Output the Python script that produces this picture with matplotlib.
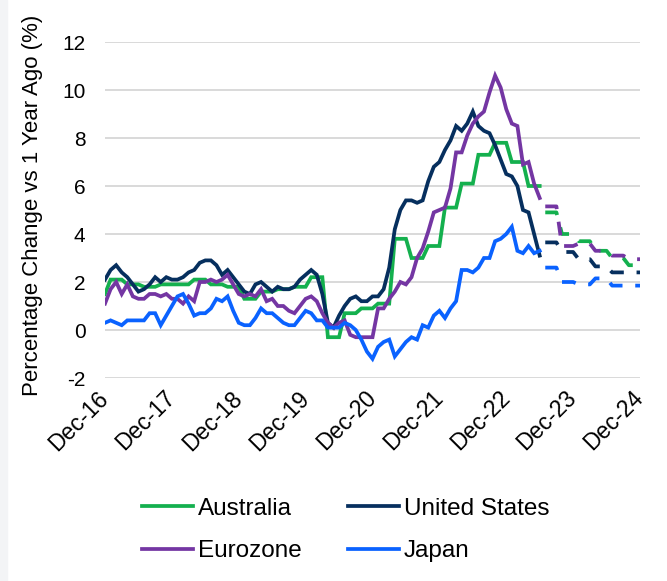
import numpy as np
import matplotlib.pyplot as plt
from matplotlib.patches import Rectangle

plt.rcParams['font.family'] = ['Liberation Sans', 'DejaVu Sans']
plt.rcParams['axes.unicode_minus'] = False

# months since Dec-16 (actuals Dec-16 .. Jun-23, forecasts Jul-23 .. Dec-24)
tick_labels = ['Dec-16', 'Dec-17', 'Dec-18', 'Dec-19', 'Dec-20',
               'Dec-21', 'Dec-22', 'Dec-23', 'Dec-24']

australia = [1.5,
             2.1, 2.1, 2.1, 1.9, 1.9, 1.9, 1.8, 1.8, 1.8, 1.9, 1.9, 1.9,
             1.9, 1.9, 1.9, 2.1, 2.1, 2.1, 1.9, 1.9, 1.9, 1.8, 1.8, 1.8,
             1.3, 1.3, 1.3, 1.6, 1.6, 1.6, 1.7, 1.7, 1.7, 1.8, 1.8, 1.8,
             2.2, 2.2, 2.2, -0.3, -0.3, -0.3, 0.7, 0.7, 0.7, 0.9, 0.9, 0.9,
             1.1, 1.1, 1.1, 3.8, 3.8, 3.8, 3.0, 3.0, 3.0, 3.5, 3.5, 3.5,
             5.1, 5.1, 5.1, 6.1, 6.1, 6.1, 7.3, 7.3, 7.3, 7.8, 7.8, 7.8,
             7.0, 7.0, 7.0, 6.0, 6.0, 6.0]
united_states = [2.1,
                 2.5, 2.7, 2.4, 2.2, 1.9, 1.6, 1.7, 1.9, 2.2, 2.0, 2.2, 2.1,
                 2.1, 2.2, 2.4, 2.5, 2.8, 2.9, 2.9, 2.7, 2.3, 2.5, 2.2, 1.9,
                 1.6, 1.5, 1.9, 2.0, 1.8, 1.6, 1.8, 1.7, 1.7, 1.8, 2.1, 2.3,
                 2.5, 2.3, 1.5, 0.3, 0.1, 0.6, 1.0, 1.3, 1.4, 1.2, 1.2, 1.4,
                 1.4, 1.7, 2.6, 4.2, 5.0, 5.4, 5.4, 5.3, 5.4, 6.2, 6.8, 7.0,
                 7.5, 7.9, 8.5, 8.3, 8.6, 9.1, 8.5, 8.3, 8.2, 7.7, 7.1, 6.5,
                 6.4, 6.0, 5.0, 4.9, 4.0, 3.1]
eurozone = [1.1,
            1.7, 2.0, 1.5, 1.9, 1.4, 1.3, 1.3, 1.5, 1.5, 1.4, 1.5, 1.3,
            1.3, 1.1, 1.4, 1.2, 2.0, 2.0, 2.1, 2.0, 2.1, 2.3, 1.9, 1.5,
            1.4, 1.5, 1.4, 1.7, 1.2, 1.3, 1.0, 1.0, 0.8, 0.7, 1.0, 1.3,
            1.4, 1.2, 0.7, 0.3, 0.1, 0.3, 0.4, -0.2, -0.3, -0.3, -0.3, -0.3,
            0.9, 0.9, 1.3, 1.6, 2.0, 1.9, 2.2, 3.0, 3.4, 4.1, 4.9, 5.0,
            5.1, 5.9, 7.4, 7.4, 8.1, 8.6, 8.9, 9.1, 9.9, 10.6, 10.1, 9.2,
            8.6, 8.5, 6.9, 7.0, 6.1, 5.5]
japan = [0.3,
         0.4, 0.3, 0.2, 0.4, 0.4, 0.4, 0.4, 0.7, 0.7, 0.2, 0.6, 1.0,
         1.4, 1.5, 1.1, 0.6, 0.7, 0.7, 0.9, 1.3, 1.2, 1.4, 0.8, 0.3,
         0.2, 0.2, 0.5, 0.9, 0.7, 0.7, 0.5, 0.3, 0.2, 0.2, 0.5, 0.8,
         0.7, 0.4, 0.4, 0.1, 0.1, 0.1, 0.3, 0.2, 0.0, -0.4, -0.9, -1.2,
         -0.7, -0.5, -0.4, -1.1, -0.8, -0.5, -0.3, -0.4, 0.2, 0.1, 0.6, 0.8,
         0.5, 0.9, 1.2, 2.5, 2.5, 2.4, 2.6, 3.0, 3.0, 3.7, 3.8, 4.0,
         4.3, 3.3, 3.2, 3.5, 3.2, 3.3]

# forecasts, Jul-23 .. Dec-24
australia_fc = [4.9, 4.9, 4.9, 4.0, 4.0, 4.0, 3.7, 3.7, 3.7,
                3.3, 3.3, 3.3, 3.0, 3.0, 3.0, 2.7, 2.7, 2.7]
united_states_fc = [3.65, 3.65, 3.65, 3.25, 3.25, 3.25, 2.95, 2.95, 2.95,
                    2.65, 2.65, 2.65, 2.4, 2.4, 2.4, 2.4, 2.4, 2.4]
eurozone_fc = [5.15, 5.15, 5.15, 3.5, 3.5, 3.5, 3.6, 3.6, 3.6,
               3.3, 3.3, 3.3, 3.1, 3.1, 3.1, 2.95, 2.95, 2.95]
japan_fc = [2.6, 2.6, 2.6, 2.0, 2.0, 2.0, 1.9, 1.9, 1.9,
            2.15, 2.15, 2.15, 1.85, 1.85, 1.85, 1.85, 1.85, 1.85]

colors = {'Australia': '#14B04E', 'United States': '#062F5E',
          'Eurozone': '#7436A3', 'Japan': '#0A62FF'}

m_act = np.arange(len(australia))
m_fc = np.arange(len(australia), len(australia) + len(australia_fc))

fig = plt.figure(figsize=(6.67, 5.81), dpi=100)
fig.patches.append(Rectangle((0, 0), 7 / 667, 1, transform=fig.transFigure,
                             color='#F3F4F6', zorder=0))
ax = fig.add_axes([105 / 667, 1 - 378 / 581, 535 / 667, 336 / 581])

lw = 2.7
series = [('Australia', australia, australia_fc),
          ('United States', united_states, united_states_fc),
          ('Eurozone', eurozone, eurozone_fc),
          ('Japan', japan, japan_fc)]
handles = {}
for name, act, fc in series:
    ln, = ax.plot(m_act, act, color=colors[name], lw=lw, label=name,
                  solid_joinstyle='miter')
    ax.plot(m_fc, fc, color=colors[name], lw=lw, dashes=(3.7, 3.4))
    handles[name] = ln

ax.set_xlim(0, 96)
ax.set_ylim(-2, 12)
ax.set_yticks(np.arange(-2, 13, 2))
ax.set_xticks(np.arange(0, 97, 12))
ax.set_xticklabels(tick_labels, rotation=45, ha='right', va='center',
                   rotation_mode='anchor')
ax.tick_params(axis='y', length=0, labelsize=15, pad=14)
ax.tick_params(axis='x', length=0, labelsize=16.5, pad=12)
ax.grid(axis='y', color='#D9D9D9', lw=1.4)
ax.set_axisbelow(True)
for s in ax.spines.values():
    s.set_visible(False)

ax.set_ylabel('Percentage Change vs 1 Year Ago (%)', fontsize=16)
ax.yaxis.set_label_coords(-0.115, 0.515)

order = ['Australia', 'Eurozone', 'United States', 'Japan']
fig.legend([handles[n] for n in order], order, ncol=2, frameon=False,
           loc='center', bbox_to_anchor=(346 / 667, 1 - 530 / 581),
           fontsize=17.5, handlelength=2.1, handletextpad=0.2,
           columnspacing=1.9, labelspacing=0.85)

fig.savefig('out.png', dpi=100, facecolor='white')
